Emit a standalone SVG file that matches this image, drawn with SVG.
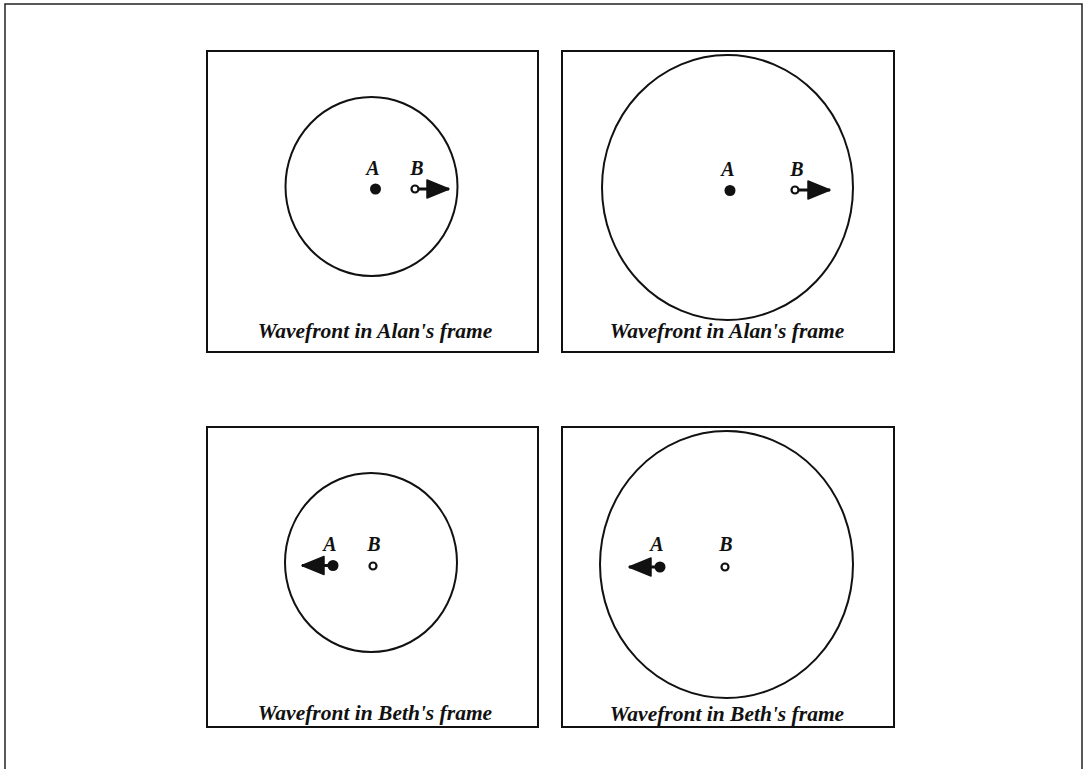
<svg xmlns="http://www.w3.org/2000/svg" width="1087" height="769" viewBox="0 0 1087 769">
<style>
.frame{fill:none;stroke:#111;stroke-width:2}
.wave{fill:none;stroke:#111;stroke-width:2}
.cap{font-family:"Liberation Serif",serif;font-style:italic;font-weight:bold;font-size:21.5px;fill:#111;text-anchor:middle}
.lbl{font-family:"Liberation Serif",serif;font-style:italic;font-weight:bold;font-size:20px;fill:#111;text-anchor:middle}
.dotA{fill:#111}
.dotB{fill:#fff;stroke:#111;stroke-width:2.2}
.vel{stroke:#111;stroke-width:3;fill:none}
</style>
<defs>
<marker id="head" markerUnits="userSpaceOnUse" markerWidth="26" markerHeight="22" viewBox="0 0 26 22" refX="24" refY="11" orient="auto">
<path d="M2,2 L24,11 L2,20 Z" fill="#111" stroke="#111" stroke-width="1.5" stroke-linejoin="round"/>
</marker>
</defs>
<rect x="0" y="0" width="1087" height="769" fill="#fff"/>
<path d="M5,769 L5,4 L1082,4 L1082,769" fill="none" stroke="#222" stroke-width="1.5"/>

<g id="panel-alan-1">
<rect class="frame" x="207" y="51" width="331" height="301"/>
<ellipse class="wave" cx="371.5" cy="186.5" rx="86" ry="89.5"/>
<circle class="dotA" cx="375.5" cy="189" r="5.5"/>
<text class="lbl" x="373" y="175">A</text>
<circle class="dotB" cx="415" cy="189" r="3.5"/>
<text class="lbl" x="417" y="175">B</text>
<text class="cap" x="375" y="338">Wavefront in Alan's frame</text>
</g>

<g id="panel-alan-2">
<rect class="frame" x="562" y="51" width="332" height="301"/>
<ellipse class="wave" cx="727.5" cy="187.5" rx="125.5" ry="132.5"/>
<circle class="dotA" cx="730" cy="190.5" r="5.5"/>
<text class="lbl" x="728" y="176">A</text>
<circle class="dotB" cx="795" cy="190" r="3.5"/>
<text class="lbl" x="797" y="176">B</text>
<text class="cap" x="727" y="338">Wavefront in Alan's frame</text>
</g>

<g id="panel-beth-1">
<rect class="frame" x="207" y="427" width="331" height="300"/>
<ellipse class="wave" cx="371" cy="562.5" rx="86" ry="89.5"/>
<circle class="dotA" cx="333" cy="565.5" r="5.5"/>
<text class="lbl" x="330" y="551">A</text>
<circle class="dotB" cx="373" cy="566" r="3.5"/>
<text class="lbl" x="374" y="551">B</text>
<text class="cap" x="375" y="720">Wavefront in Beth's frame</text>
</g>

<g id="panel-beth-2">
<rect class="frame" x="562" y="427" width="332" height="300"/>
<ellipse class="wave" cx="726.5" cy="564.5" rx="126.5" ry="133.5"/>
<circle class="dotA" cx="660" cy="567" r="5.5"/>
<text class="lbl" x="657" y="551">A</text>
<circle class="dotB" cx="725" cy="567" r="3.5"/>
<text class="lbl" x="726" y="551">B</text>
<text class="cap" x="727" y="721">Wavefront in Beth's frame</text>
</g>

<g id="connectors">
<line class="vel" x1="418" y1="189" x2="449" y2="189" marker-end="url(#head)"/>
<line class="vel" x1="798" y1="190" x2="830" y2="190" marker-end="url(#head)"/>
<line class="vel" x1="330" y1="565.5" x2="302" y2="565.5" marker-end="url(#head)"/>
<line class="vel" x1="657" y1="567" x2="629" y2="567" marker-end="url(#head)"/>
</g>
</svg>
